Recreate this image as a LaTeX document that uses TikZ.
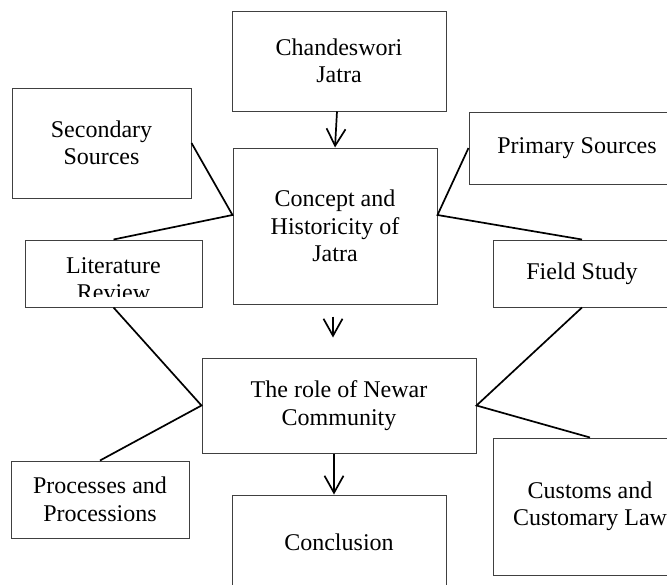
\documentclass[tikz,border=0pt]{standalone}
\usepackage{fontspec}
\setmainfont{Liberation Serif}
\usetikzlibrary{arrows.meta}
\tikzset{
  box/.style={draw=black!75, line width=1pt, rectangle, inner sep=0pt, align=center,
    font=\fontsize{24}{27.5}\selectfont},
  txt/.style={inner sep=0pt, align=center, font=\fontsize{24}{27.5}\selectfont},
  conn/.style={line width=1.7pt, black},
  arr/.style={line width=1.7pt, black, -{Straight Barb[length=17pt,width=19pt,line width=1.7pt]}}
}
\begin{document}
\begin{tikzpicture}[x=1pt,y=-1pt]
\clip (0,0) rectangle (667,584);
\fill[white] (0,0) rectangle (667,584);
% boxes
\node[box, minimum width=214pt, minimum height=100pt] (chand) at (339,61) {Chandeswori\\Jatra};
\node[box, minimum width=179pt, minimum height=110pt] (second) at (101.5,143) {Secondary\\Sources};
\node[box, minimum width=204pt, minimum height=156pt] (concept) at (335,226) {Concept and\\Historicity of\\Jatra};
\node[box, minimum width=216pt, minimum height=72pt] (primary) at (577,148) {Primary Sources};
\node[box, minimum width=177pt, minimum height=67pt] (lit) at (113.5,273.5) {};
\begin{scope}
\clip (25,240) rectangle (202,296.5);
\node[txt] (littext) at (113.5,279) {Literature\\Review};
\end{scope}
\node[box, minimum width=178pt, minimum height=67pt] (field) at (582,273.5) {Field Study};
\node[box, minimum width=274pt, minimum height=95pt] (role) at (339,405.5) {The role of Newar\\Community};
\node[box, minimum width=178pt, minimum height=77pt] (proc) at (100,499.5) {Processes and\\Processions};
\node[box, minimum width=194pt, minimum height=137pt] (cust) at (590,506.5) {Customs and\\Customary Law};
\node[box, minimum width=214pt, minimum height=94pt] (concl) at (339,542) {Conclusion};
% junction points
\coordinate (cl) at ([yshift=11pt]concept.west);
\coordinate (cr) at ([yshift=11pt]concept.east);
% connectors
\draw[conn] (second.east) -- (cl) -- (lit.north);
\draw[conn] (primary.west) -- (cr) -- (field.north);
\draw[conn] (lit.south) -- (role.west) -- (proc.north);
\draw[conn] (field.south) -- (role.east) -- (cust.north);
% arrows
\draw[arr] ([xshift=-2pt]chand.south) -- (concept.north);
\draw[arr] ([yshift=-12pt,xshift=-2pt]concept.south) -- ([yshift=-33pt,xshift=-2pt]concept.south);
\draw[arr] ([xshift=-5pt]role.south) -- ([xshift=-5pt]concl.north);
\end{tikzpicture}
\end{document}
